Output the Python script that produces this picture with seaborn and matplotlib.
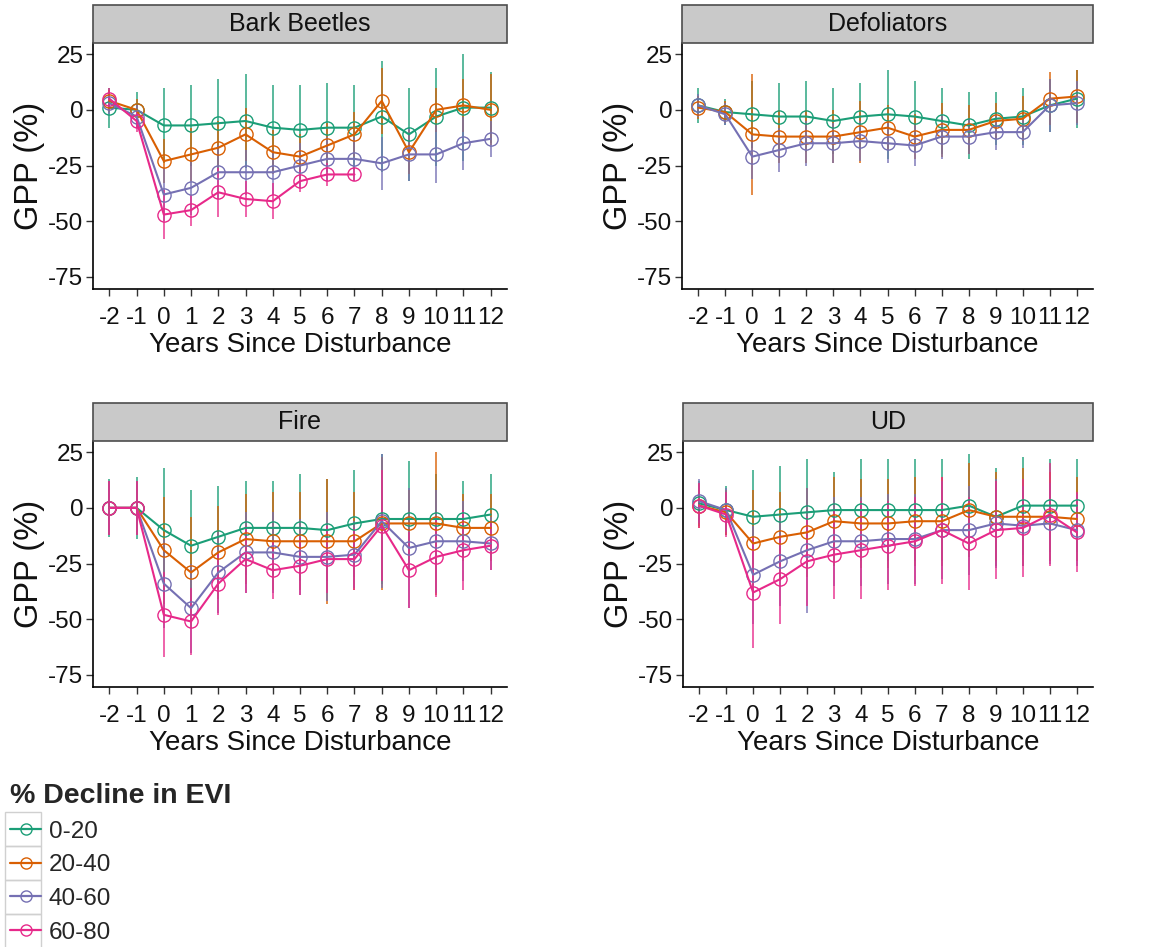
import numpy as np
import pandas as pd
import matplotlib
matplotlib.use("Agg")
import matplotlib.pyplot as plt
from matplotlib.patches import Rectangle
from matplotlib.lines import Line2D
import seaborn as sns

# ---- data -------------------------------------------------------------
years = list(range(-2, 13))
classes = ["0-20", "20-40", "40-60", "60-80"]
colors = ["#1B9E77", "#D95F02", "#7570B3", "#E7298A"]
panels = ["Bark Beetles", "Defoliators", "Fire", "UD"]

# mean GPP change (%) per class, one list per disturbance type
bb_0_20 = [1, 0, -7, -7, -6, -5, -8, -9, -8, -8, -3, -11, -3, 1, 1]
bb_20_40 = [4, 0, -23, -20, -17, -11, -19, -21, -16, -11, 4, -19, 0, 2, 0]
bb_40_60 = [3, -3, -38, -35, -28, -28, -28, -25, -22, -22, -24, -20, -20, -15, -13]
bb_60_80 = [5, -5, -47, -45, -37, -40, -41, -32, -29, -29]

df_0_20 = [2, -1, -2, -3, -3, -5, -3, -2, -3, -5, -7, -4, -3, 2, 5]
df_20_40 = [1, -1, -11, -12, -12, -12, -10, -8, -12, -9, -9, -5, -4, 5, 6]
df_40_60 = [2, -2, -21, -18, -15, -15, -14, -15, -16, -12, -12, -10, -10, 2, 3]

fi_0_20 = [0, 0, -10, -17, -13, -9, -9, -9, -10, -7, -5, -5, -5, -5, -3]
fi_20_40 = [0, 0, -19, -29, -20, -14, -15, -15, -15, -15, -7, -7, -7, -9, -9]
fi_40_60 = [0, 0, -34, -45, -29, -20, -20, -22, -22, -21, -6, -18, -15, -15, -16]
fi_60_80 = [0, 0, -48, -51, -34, -23, -28, -26, -23, -23, -8, -28, -22, -19, -17]

ud_0_20 = [2, -1, -4, -3, -2, -1, -1, -1, -1, -1, 1, -4, 1, 1, 1]
ud_20_40 = [1, -2, -16, -13, -11, -6, -7, -7, -6, -6, -1, -4, -4, -4, -5]
ud_40_60 = [3, -1, -30, -24, -19, -15, -15, -14, -14, -10, -10, -7, -8, -7, -10]
ud_60_80 = [1, -3, -38, -32, -24, -21, -19, -17, -15, -10, -16, -10, -9, -3, -11]

# standard deviations (error bar half-lengths)
bb_0_20_sd = [9, 8, 17, 18, 20, 21, 19, 20, 20, 19, 25, 21, 22, 24, 16]
bb_20_40_sd = [5, 5, 10, 12, 12, 12, 10, 10, 10, 10, 15, 10, 10, 12, 16]
bb_40_60_sd = [5, 5, 12, 12, 12, 10, 10, 10, 10, 10, 12, 12, 13, 12, 8]
bb_60_80_sd = [5, 5, 11, 7, 11, 8, 8, 5, 5, 3]

df_0_20_sd = [8, 6, 15, 15, 16, 15, 15, 20, 16, 15, 15, 12, 13, 12, 13]
df_20_40_sd = [5, 5, 27, 12, 12, 12, 14, 10, 10, 12, 11, 8, 10, 12, 12]
df_40_60_sd = [5, 5, 10, 10, 10, 9, 9, 9, 9, 10, 8, 8, 7, 12, 10]

fi_0_20_sd = [13, 14, 28, 25, 23, 21, 21, 24, 23, 24, 29, 26, 20, 17, 18]
fi_20_40_sd = [12, 12, 24, 25, 21, 20, 22, 22, 28, 22, 30, 15, 32, 15, 15]
fi_40_60_sd = [12, 12, 20, 20, 18, 18, 18, 17, 20, 15, 30, 27, 23, 18, 12]
fi_60_80_sd = [12, 12, 19, 15, 14, 15, 13, 13, 15, 14, 25, 17, 18, 18, 11]

ud_0_20_sd = [10, 11, 21, 22, 24, 17, 23, 23, 23, 23, 23, 22, 22, 21, 21]
ud_20_40_sd = [10, 10, 24, 20, 20, 20, 20, 20, 20, 20, 21, 20, 22, 20, 19]
ud_40_60_sd = [10, 10, 22, 20, 28, 20, 20, 20, 20, 22, 20, 20, 18, 18, 16]
ud_60_80_sd = [10, 10, 25, 20, 20, 20, 22, 20, 20, 24, 21, 22, 22, 23, 18]

series = {
    "Bark Beetles": [(bb_0_20, bb_0_20_sd), (bb_20_40, bb_20_40_sd),
                     (bb_40_60, bb_40_60_sd), (bb_60_80, bb_60_80_sd)],
    "Defoliators": [(df_0_20, df_0_20_sd), (df_20_40, df_20_40_sd),
                    (df_40_60, df_40_60_sd), None],
    "Fire": [(fi_0_20, fi_0_20_sd), (fi_20_40, fi_20_40_sd),
             (fi_40_60, fi_40_60_sd), (fi_60_80, fi_60_80_sd)],
    "UD": [(ud_0_20, ud_0_20_sd), (ud_20_40, ud_20_40_sd),
           (ud_40_60, ud_40_60_sd), (ud_60_80, ud_60_80_sd)],
}

rows = []
for panel in panels:
    for cls, entry in zip(classes, series[panel]):
        if entry is None:
            continue
        means, sds = entry
        for yr, m, s in zip(years, means, sds):
            rows.append({"panel": panel, "year": yr, "decline": cls,
                         "gpp": m, "sd": s})
data = pd.DataFrame(rows)

# ---- style ------------------------------------------------------------
sns.set_style("ticks")
plt.rcParams["font.family"] = ["Liberation Sans", "DejaVu Sans"]
plt.rcParams["axes.unicode_minus"] = False

palette = dict(zip(classes, colors))

W, H = 1162, 947
fig = plt.figure(figsize=(W / 100, H / 100), dpi=100)

# panel boxes in pixels: left, top, right, bottom of the plotting area
boxes = {
    "Bark Beetles": (93, 43, 507, 289),
    "Defoliators": (682, 43, 1093, 289),
    "Fire": (93, 441, 507, 687),
    "UD": (683, 441, 1093, 687),
}
strip_px = 38

for panel in panels:
    l, t, r, b = boxes[panel]
    ax = fig.add_axes([l / W, 1 - b / H, (r - l) / W, (b - t) / H])
    sub = data[data["panel"] == panel]

    for cls in classes:
        s = sub[sub["decline"] == cls]
        if s.empty:
            continue
        ax.errorbar(s["year"], s["gpp"], yerr=s["sd"], fmt="none",
                    ecolor=palette[cls], elinewidth=1.2, capsize=0,
                    alpha=0.85, zorder=2)

    sns.lineplot(data=sub, x="year", y="gpp", hue="decline",
                 hue_order=[c for c in classes if c in set(sub["decline"])],
                 palette=palette, marker="o", markersize=9.5,
                 linewidth=1.5, errorbar=None, legend=False, ax=ax,
                 zorder=3)
    for ln in ax.lines:
        ln.set_markerfacecolor("none")
        ln.set_markeredgecolor(ln.get_color())
        ln.set_markeredgewidth(1.0)

    ax.set_xlim(-2.6, 12.6)
    ax.set_ylim(-80.4, 30)
    ax.set_xticks(years)
    ax.set_xticklabels([str(y) for y in years])
    ax.set_yticks([-75, -50, -25, 0, 25])
    ax.set_yticklabels(["-75", "-50", "-25", "0", "25"])
    ax.tick_params(axis="both", labelsize=17.5, length=5, width=1,
                   color="#333333", labelcolor="#111111")
    ax.tick_params(axis="x", pad=8)
    ax.tick_params(axis="y", pad=2)
    ax.set_xlabel("Years Since Disturbance", fontsize=20, labelpad=2,
                  color="#111111")
    ax.set_ylabel("GPP (%)", fontsize=23.5, labelpad=2, color="#111111")
    for side in ("top", "right"):
        ax.spines[side].set_visible(False)
    for side in ("left", "bottom"):
        ax.spines[side].set_color("black")
        ax.spines[side].set_linewidth(1.2)

    # facet strip
    sh = strip_px / (b - t)
    ax.add_patch(Rectangle((0, 1), 1, sh, transform=ax.transAxes,
                           facecolor="#C9C9C9", edgecolor="#4D4D4D",
                           linewidth=1.2, clip_on=False, zorder=5))
    ax.text(0.5, 1 + sh / 2, panel, transform=ax.transAxes,
            ha="center", va="center", fontsize=18, color="#111111",
            zorder=6)

# ---- legend -----------------------------------------------------------
handles = [Line2D([], [], color=c, marker="o", markersize=8,
                  markerfacecolor="none", markeredgecolor=c,
                  markeredgewidth=1.0, linewidth=1.6) for c in colors]
leg = fig.legend(handles, classes, title="% Decline in EVI",
                 loc="upper left", bbox_to_anchor=(5 / W, 1 - 778 / H),
                 frameon=False, fontsize=17.5, handlelength=1.3,
                 handletextpad=0.3, labelspacing=0.48,
                 borderaxespad=0, borderpad=0.2)
leg.get_title().set_fontsize(20.5)
leg.get_title().set_fontweight("bold")
leg._legend_box.align = "left"

# grey frames around legend keys
for i in range(len(classes)):
    top = 812 + i * 34
    fig.patches.append(Rectangle((5 / W, 1 - (top + 34) / H), 36 / W, 34 / H,
                                 transform=fig.transFigure,
                                 facecolor="none", edgecolor="#D0D0D0",
                                 linewidth=1.0))

fig.savefig("out.png", dpi=100, facecolor="white")
